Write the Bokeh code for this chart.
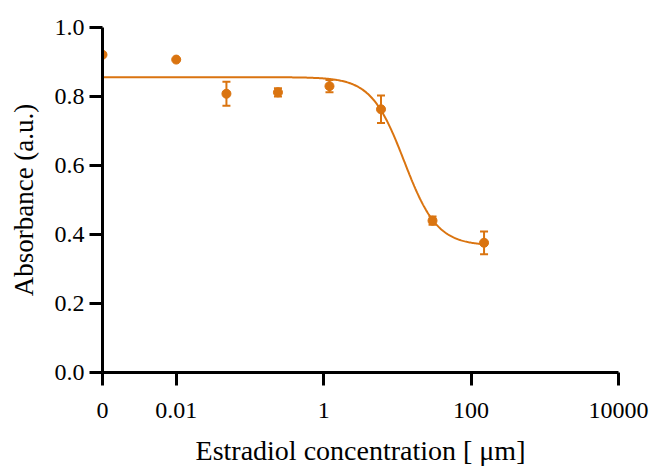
import numpy as np
from bokeh.plotting import figure
from bokeh.models import ColumnDataSource, Whisker, FixedTicker, CustomJSTickFormatter, Range1d
from bokeh.embed import file_html
from bokeh.resources import INLINE

# Data
conc = [0.001, 0.01, 0.048, 0.24, 1.2, 6.0, 30.0, 150.0]
absorb = [0.921, 0.907, 0.808, 0.812, 0.830, 0.763, 0.440, 0.376]
err = [0.0, 0.0, 0.035, 0.012, 0.018, 0.040, 0.012, 0.033]

# Fitted 4-parameter logistic curve (parameters)
fit_top = 0.856
fit_bottom = 0.368
fit_ec50 = 12.4
fit_hill = 1.94

x_ticks = [0.001, 0.01, 1, 100, 10000]
x_tick_labels = ["0", "0.01", "1", "100", "10000"]
y_ticks = [0.0, 0.2, 0.4, 0.6, 0.8, 1.0]
x_title = "Estradiol concentration [ μm]"
y_title = "Absorbance (a.u.)"

COLOR = "#DA7410"
FONT = "Liberation Serif"

p = figure(width=654, height=469, x_axis_type="log", output_backend="svg",
           toolbar_location=None, min_border_left=102, min_border_right=36,
           min_border_top=27, min_border_bottom=97)
p.x_range = Range1d(0.001, 10000)
p.y_range = Range1d(0, 1.0)

xc = np.logspace(np.log10(conc[0]), np.log10(conc[-1]), 400)
yc = fit_bottom + (fit_top - fit_bottom) / (1 + (xc / fit_ec50) ** fit_hill)
p.line(xc, yc, line_color=COLOR, line_width=2)

lower = [a - e for a, e in zip(absorb, err)]
upper = [a + e for a, e in zip(absorb, err)]
src = ColumnDataSource(dict(x=conc, y=absorb, lower=lower, upper=upper))
w = Whisker(source=src, base="x", lower="lower", upper="upper",
            line_color=COLOR, line_width=2)
w.upper_head.size = 8
w.lower_head.size = 8
w.upper_head.line_color = COLOR
w.lower_head.line_color = COLOR
w.upper_head.line_width = 2
w.lower_head.line_width = 2
p.add_layout(w)
p.scatter("x", "y", source=src, size=9, color=COLOR)

p.grid.visible = False
p.outline_line_color = None

p.xaxis.ticker = FixedTicker(ticks=x_ticks)
p.xaxis.formatter = CustomJSTickFormatter(args=dict(vals=x_ticks, labs=x_tick_labels), code="""
for (let i = 0; i < vals.length; i++) {
  if (Math.abs(tick / vals[i] - 1) < 1e-6) return labs[i];
}
return String(tick);
""")
p.yaxis.ticker = FixedTicker(ticks=y_ticks)
p.yaxis.formatter = CustomJSTickFormatter(code="return tick.toFixed(1);")

for ax in (p.xaxis[0], p.yaxis[0]):
    ax.axis_line_width = 3
    ax.axis_line_color = "black"
    ax.major_tick_line_width = 3
    ax.major_tick_line_color = "black"
    ax.major_tick_out = 13
    ax.major_tick_in = 0
    ax.minor_tick_line_color = None
    ax.major_label_text_font = FONT
    ax.major_label_text_font_size = "24px"
    ax.major_label_text_color = "black"
    ax.axis_label_text_font = FONT
    ax.axis_label_text_font_style = "normal"
    ax.axis_label_text_color = "black"

p.xaxis.axis_label = x_title
p.yaxis.axis_label = y_title
p.xaxis.axis_label_text_font_size = "28px"
p.yaxis.axis_label_text_font_size = "27px"
p.yaxis.major_label_standoff = 5
p.xaxis.major_label_standoff = 17
p.xaxis.axis_label_standoff = 14
p.yaxis.axis_label_standoff = 13

open("out.html", "w").write(file_html(p, INLINE))
